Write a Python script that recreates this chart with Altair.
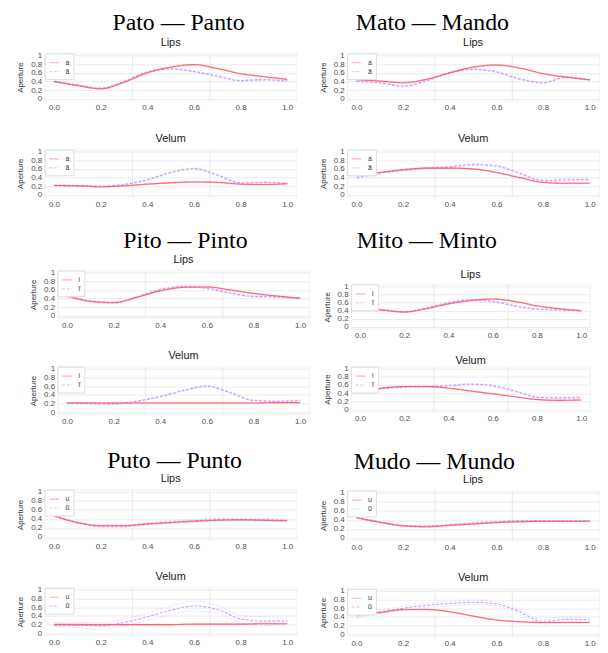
import altair as alt
import pandas as pd

# ---------------- data ----------------
X = [0.0, 0.1, 0.2, 0.3, 0.4, 0.5, 0.6, 0.7, 0.8, 0.9, 1.0]

PATO_LIPS_ORAL = [0.40, 0.31, 0.23, 0.38, 0.60, 0.73, 0.79, 0.70, 0.58, 0.51, 0.45]
PATO_LIPS_NASAL = [0.40, 0.31, 0.24, 0.40, 0.62, 0.69, 0.63, 0.52, 0.42, 0.44, 0.41]
PATO_VEL_ORAL = [0.22, 0.21, 0.19, 0.21, 0.25, 0.28, 0.30, 0.29, 0.25, 0.24, 0.26]
PATO_VEL_NASAL = [0.22, 0.21, 0.20, 0.24, 0.35, 0.52, 0.61, 0.46, 0.28, 0.29, 0.27]

MATO_LIPS_ORAL = [0.44, 0.41, 0.37, 0.45, 0.60, 0.73, 0.78, 0.71, 0.58, 0.50, 0.44]
MATO_LIPS_NASAL = [0.40, 0.37, 0.29, 0.42, 0.60, 0.68, 0.62, 0.46, 0.37, 0.50, 0.43]
MATO_VEL_ORAL = [0.45, 0.52, 0.58, 0.62, 0.62, 0.60, 0.52, 0.40, 0.29, 0.27, 0.27]
MATO_VEL_NASAL = [0.40, 0.50, 0.58, 0.62, 0.65, 0.70, 0.67, 0.50, 0.33, 0.35, 0.36]

PITO_LIPS_ORAL = [0.47, 0.34, 0.31, 0.43, 0.58, 0.66, 0.67, 0.60, 0.52, 0.46, 0.41]
PITO_LIPS_NASAL = [0.45, 0.34, 0.30, 0.44, 0.61, 0.68, 0.64, 0.53, 0.45, 0.44, 0.40]
PITO_VEL_ORAL = [0.21, 0.21, 0.21, 0.21, 0.21, 0.21, 0.21, 0.21, 0.21, 0.22, 0.22]
PITO_VEL_NASAL = [0.21, 0.20, 0.19, 0.25, 0.36, 0.50, 0.60, 0.45, 0.27, 0.25, 0.27]

MITO_LIPS_ORAL = [0.48, 0.42, 0.37, 0.45, 0.57, 0.65, 0.69, 0.63, 0.52, 0.45, 0.40]
MITO_LIPS_NASAL = [0.48, 0.42, 0.37, 0.47, 0.60, 0.67, 0.63, 0.52, 0.44, 0.42, 0.40]
MITO_VEL_ORAL = [0.43, 0.52, 0.56, 0.56, 0.52, 0.45, 0.38, 0.31, 0.24, 0.22, 0.23]
MITO_VEL_NASAL = [0.43, 0.51, 0.55, 0.56, 0.58, 0.62, 0.58, 0.45, 0.30, 0.28, 0.29]

PUTO_LIPS_ORAL = [0.47, 0.32, 0.25, 0.25, 0.29, 0.32, 0.35, 0.37, 0.38, 0.37, 0.36]
PUTO_LIPS_NASAL = [0.47, 0.32, 0.24, 0.24, 0.29, 0.33, 0.36, 0.39, 0.39, 0.38, 0.37]
PUTO_VEL_ORAL = [0.20, 0.20, 0.20, 0.20, 0.20, 0.20, 0.21, 0.21, 0.21, 0.22, 0.22]
PUTO_VEL_NASAL = [0.20, 0.19, 0.17, 0.25, 0.38, 0.53, 0.63, 0.55, 0.33, 0.28, 0.28]

MUDO_LIPS_ORAL = [0.45, 0.35, 0.27, 0.25, 0.28, 0.31, 0.34, 0.36, 0.37, 0.37, 0.37]
MUDO_LIPS_NASAL = [0.45, 0.35, 0.27, 0.26, 0.29, 0.33, 0.36, 0.38, 0.38, 0.38, 0.38]
MUDO_VEL_ORAL = [0.45, 0.50, 0.57, 0.57, 0.52, 0.42, 0.33, 0.29, 0.27, 0.27, 0.27]
MUDO_VEL_NASAL = [0.42, 0.52, 0.60, 0.67, 0.71, 0.74, 0.70, 0.52, 0.28, 0.35, 0.33]

# half-widths of the thin interval lines around each mean curve
ORAL_HW = [0.01] * 11
NASAL_HW = [0.015] * 11
MATO_VEL_NASAL_HW = [0.02, 0.02, 0.02, 0.02, 0.02, 0.02, 0.02, 0.02, 0.025, 0.03, 0.03]
PUTO_LIPS_NASAL_HW = [0.02, 0.02, 0.03, 0.03, 0.03, 0.03, 0.03, 0.03, 0.03, 0.03, 0.02]
PUTO_VEL_ORAL_HW = [0.03, 0.02, 0.015, 0.01, 0.01, 0.01, 0.01, 0.01, 0.01, 0.01, 0.01]
PUTO_VEL_NASAL_HW = [0.05, 0.06, 0.08, 0.08, 0.09, 0.10, 0.11, 0.10, 0.08, 0.10, 0.07]
MUDO_VEL_NASAL_HW = [0.03, 0.04, 0.05, 0.05, 0.05, 0.05, 0.05, 0.05, 0.05, 0.06, 0.05]

LABELS_A = ["a", "ã"]
LABELS_I = ["i", "ĩ"]
LABELS_U = ["u", "ũ"]

TICKS = [0.0, 0.2, 0.4, 0.6, 0.8, 1.0]
X_GRID = [1 / 3, 2 / 3]

RED = "#ff4f63"
PURPLE = "#c189ff"
FONT = "Liberation Sans"


def make_df(oral, nasal, oral_hw, nasal_hw, labels):
    rows = []
    for s, vals, hw in ((labels[1], nasal, nasal_hw), (labels[0], oral, oral_hw)):
        for xi, v, h in zip(X, vals, hw):
            rows.append(dict(x=xi, y=v, series=s, kind="mean"))
            rows.append(dict(x=xi, y=v + h, series=s, kind="hi"))
            rows.append(dict(x=xi, y=v - h, series=s, kind="lo"))
    return pd.DataFrame(rows)


GRID_TEST = "abs(datum.value - 1/3) < 0.001 || abs(datum.value - 2/3) < 0.001"


def panel(sub, oral, nasal, oral_hw, nasal_hw, labels, w=254, h=48, toff=4):
    df = make_df(oral, nasal, oral_hw, nasal_hw, labels)
    leg = alt.Legend(title=None, orient="top-left", offset=0, fillColor="white",
                     strokeColor="#dddddd", padding=4, labelFontSize=7,
                     labelColor="#333333", symbolType="stroke", symbolSize=90,
                     symbolStrokeWidth=1.2, rowPadding=0, labelOffset=6)
    xenc = alt.X("x:Q", scale=alt.Scale(domain=[-0.04, 1.04], nice=False, zero=False),
                 axis=alt.Axis(values=TICKS + X_GRID, title=None,
                               labelExpr=f"({GRID_TEST}) ? '' : format(datum.value, '.1f')",
                               gridOpacity={"condition": {"test": GRID_TEST, "value": 1}, "value": 0}))
    yenc = alt.Y("y:Q", scale=alt.Scale(domain=[-0.05, 1.05], nice=False, zero=False),
                 axis=alt.Axis(values=TICKS, format="~g", title="Aperture"))
    color = alt.Color("series:N", scale=alt.Scale(domain=labels, range=[RED, PURPLE]), legend=leg)
    dash = alt.StrokeDash("series:N", scale=alt.Scale(domain=labels, range=[[1, 0], [3, 1.5]]), legend=leg)
    base = alt.Chart(df)
    bands = base.mark_line(strokeWidth=0.6, opacity=0.45, interpolate="monotone").encode(
        x=xenc, y=yenc, color=color, strokeDash=dash, detail="kind:N"
    ).transform_filter(alt.datum.kind != "mean")
    means = base.mark_line(strokeWidth=1.1, opacity=0.8, interpolate="monotone").encode(
        x=xenc, y=yenc, color=color, strokeDash=dash
    ).transform_filter(alt.datum.kind == "mean")
    return alt.layer(bands, means).properties(
        width=w, height=h,
        title=alt.TitleParams(sub, fontSize=11, fontWeight="normal", color="#1a1a1a",
                              font=FONT, anchor="middle", offset=toff),
    )


def indep(c):
    return c.resolve_scale(color="independent", strokeDash="independent")


def group(title, lips, velum, dx, spacing=19, toff=0):
    return indep(alt.vconcat(
        lips, velum, spacing=spacing,
        title=alt.TitleParams(title, font="Liberation Serif", fontSize=24,
                              fontWeight="normal", color="black", anchor="middle",
                              dx=dx, offset=toff),
    ))


def spacer(w):
    return alt.Chart(pd.DataFrame({"v": [0]})).mark_point(opacity=0).encode(
        x=alt.value(0), y=alt.value(0)
    ).properties(width=w, height=10, view=alt.ViewBackground(strokeOpacity=0))


g1 = group("Pato — Panto",
           panel("Lips", PATO_LIPS_ORAL, PATO_LIPS_NASAL, ORAL_HW, NASAL_HW, LABELS_A),
           panel("Velum", PATO_VEL_ORAL, PATO_VEL_NASAL, ORAL_HW, NASAL_HW, LABELS_A), dx=22, toff=1)
g2 = group("Mato — Mando",
           panel("Lips", MATO_LIPS_ORAL, MATO_LIPS_NASAL, ORAL_HW, NASAL_HW, LABELS_A),
           panel("Velum", MATO_VEL_ORAL, MATO_VEL_NASAL, ORAL_HW, MATO_VEL_NASAL_HW, LABELS_A), dx=-27, toff=1)
g3 = group("Pito — Pinto",
           panel("Lips", PITO_LIPS_ORAL, PITO_LIPS_NASAL, ORAL_HW, NASAL_HW, LABELS_I),
           panel("Velum", PITO_VEL_ORAL, PITO_VEL_NASAL, ORAL_HW, NASAL_HW, LABELS_I), dx=16)
g4 = group("Mito — Minto",
           panel("Lips", MITO_LIPS_ORAL, MITO_LIPS_NASAL, ORAL_HW, NASAL_HW, LABELS_I, w=241, h=45, toff=2),
           panel("Velum", MITO_VEL_ORAL, MITO_VEL_NASAL, ORAL_HW, NASAL_HW, LABELS_I, w=241, h=45, toff=-1),
           dx=-30, spacing=13, toff=16)
g5 = group("Puto — Punto",
           panel("Lips", PUTO_LIPS_ORAL, PUTO_LIPS_NASAL, ORAL_HW, PUTO_LIPS_NASAL_HW, LABELS_U, h=50),
           panel("Velum", PUTO_VEL_ORAL, PUTO_VEL_NASAL, PUTO_VEL_ORAL_HW, PUTO_VEL_NASAL_HW, LABELS_U), dx=18)
g6 = group("Mudo — Mundo",
           panel("Lips", MUDO_LIPS_ORAL, MUDO_LIPS_NASAL, ORAL_HW, NASAL_HW, LABELS_U, h=50),
           panel("Velum", MUDO_VEL_ORAL, MUDO_VEL_NASAL, ORAL_HW, MUDO_VEL_NASAL_HW, LABELS_U), dx=-25)

g3s = indep(alt.hconcat(spacer(13), g3, spacing=0, bounds="flush"))
g4s = indep(alt.hconcat(spacer(4), g4, spacing=0, bounds="flush"))

left_col = indep(alt.vconcat(indep(alt.vconcat(g1, g3s, spacing=20)), g5, spacing=22))
right_col = indep(alt.vconcat(indep(alt.vconcat(g2, g4s, spacing=20)), g6, spacing=26))

chart = indep(alt.hconcat(left_col, right_col, spacing=8)).properties(
    padding={"left": 8, "top": 0, "right": 0, "bottom": 0}
).configure(font=FONT, background="white").configure_view(
    stroke="#f0f0f0", strokeWidth=0.8
).configure_axis(
    labelFontSize=8, labelColor="#4d4d4d", ticks=False, domain=False,
    labelPadding=3, gridColor="#e6e6e6", gridWidth=0.8,
    titleFontSize=8, titleFontWeight="normal", titleColor="#333333", titlePadding=6,
    labelFont=FONT, titleFont=FONT,
)

chart.save("out.html", embed_options={"renderer": "svg", "actions": False})
